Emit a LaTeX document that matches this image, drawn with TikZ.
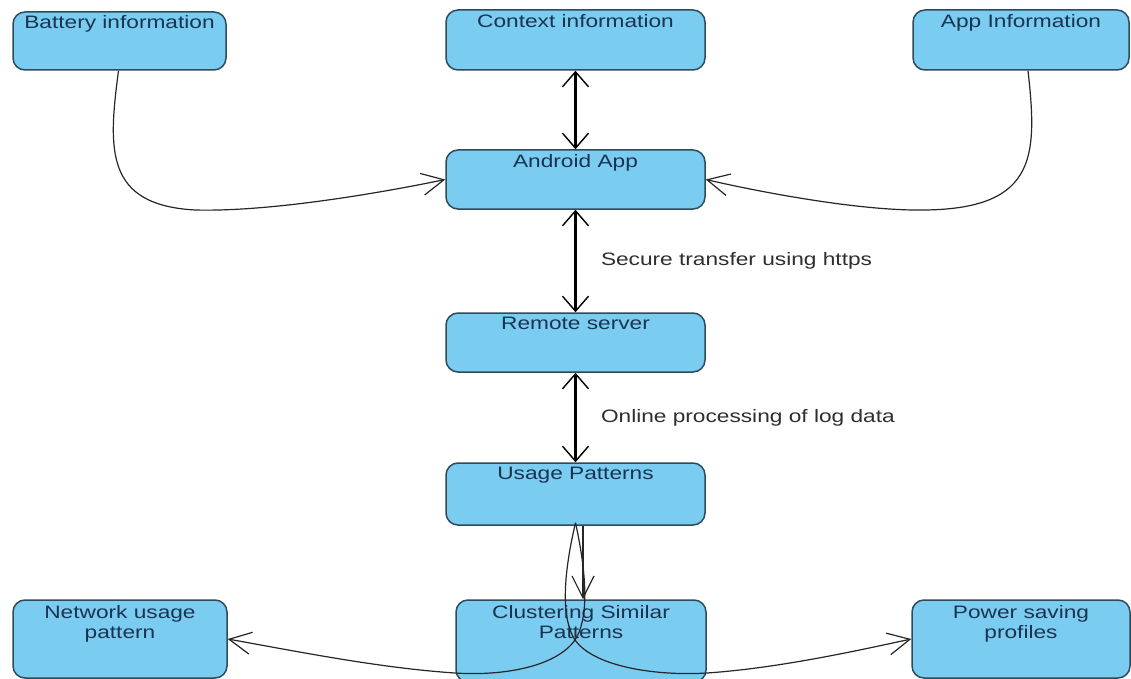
\documentclass[tikz,border=0pt]{standalone}
\usepackage{fontspec}
\newfontfamily\dfont[FakeStretch=1.26]{Liberation Sans}
\usetikzlibrary{arrows.meta}
\definecolor{boxfill}{HTML}{7ACDF1}
\definecolor{boxline}{HTML}{2E4B5C}
\definecolor{boxtext}{HTML}{1A3350}
\definecolor{labtext}{HTML}{2E2E2E}
\begin{document}
\begin{tikzpicture}[x=1pt,y=-1pt,
  box/.style={draw=boxline, line width=1.5pt, fill=boxfill, rounded corners=12pt, inner sep=0pt},
  boxtitle/.style={font=\dfont\fontsize{18}{20}\selectfont, text=boxtext, align=center, inner sep=0pt, anchor=north},
  edgelabel/.style={font=\dfont\fontsize{18}{20}\selectfont, text=labtext, inner sep=0pt, anchor=west},
  bigarrow/.style={line width=3pt, {Straight Barb[length=15pt,width=26pt,line width=1.4pt]}-{Straight Barb[length=15pt,width=26pt,line width=1.4pt]}},
  thinarrow/.style={line width=1.2pt, draw=black!85, -{Straight Barb[length=22pt,width=22pt,line width=1.2pt]}}
]
\useasboundingbox (0,0) rectangle (1131,679);
\clip (0,0) rectangle (1131,679);
\fill[white] (0,0) rectangle (1131,679);

% boxes
\node[box, minimum width=213pt, minimum height=58pt] (bat) at (119.5,41) {};
\node[box, minimum width=259pt, minimum height=60pt] (ctx) at (575.5,40) {};
\node[box, minimum width=216pt, minimum height=60pt] (appi) at (1021,40) {};
\node[box, minimum width=259pt, minimum height=59pt] (android) at (575.5,179.5) {};
\node[box, minimum width=259pt, minimum height=59pt] (remote) at (575.5,342.5) {};
\node[box, minimum width=259pt, minimum height=62pt] (usage) at (575.5,494) {};
\node[box, minimum width=250pt, minimum height=82pt] (clust) at (581,641) {};
\node[box, minimum width=214pt, minimum height=78pt] (net) at (120,639) {};
\node[box, minimum width=218pt, minimum height=78pt] (power) at (1021,639) {};

% titles
\node[boxtitle] (batT) at ([yshift=-4pt]bat.north) {Battery information};
\node[boxtitle] (ctxT) at ([yshift=-5pt]ctx.north) {Context information};
\node[boxtitle] (appiT) at ([yshift=-5pt]appi.north) {App Information};
\node[boxtitle] (androidT) at ([yshift=-5pt]android.north) {Android App};
\node[boxtitle] (remoteT) at ([yshift=-5pt]remote.north) {Remote server};
\node[boxtitle] (usageT) at ([yshift=-5pt]usage.north) {Usage Patterns};
\node[boxtitle] (clustT) at ([yshift=-6pt]clust.north) {Clustering Similar\\Patterns};
\node[boxtitle] (netT) at ([yshift=-6pt]net.north) {Network usage\\pattern};
\node[boxtitle] (powerT) at ([yshift=-6pt]power.north) {Power saving\\profiles};

% thick bidirectional connectors
\draw[bigarrow] (ctx.south) -- (android.north);
\draw[bigarrow] (android.south) -- node[edgelabel, pos=0.5, xshift=24pt] (l1) {Secure transfer using https} (remote.north);
\draw[bigarrow] (remote.south) -- node[edgelabel, pos=0.5, xshift=24pt] (l2) {Online processing of log data} (usage.north);

% curved inputs to Android App
\draw[thinarrow] ([xshift=-1pt]bat.south) .. controls (108,150) and (105,205) .. (195,210)
   .. controls (270,212) and (380,193) .. (android.west);
\draw[thinarrow] ([xshift=7pt]appi.south) .. controls (1038,160) and (1036,212) .. (913,210)
   .. controls (850,209) and (760,192) .. (android.east);

% usage -> clustering
\draw[thinarrow] ([xshift=7.5pt]usage.south) -- ([xshift=2pt]clust.north);

% usage -> network / power (loop)
\draw[thinarrow] ([yshift=3pt]usage.south) .. controls (588,580) and (588,620) .. (575,640)
   .. controls (555,668) and (500,676) .. (455,673)
   .. controls (380,668) and (300,652) .. (net.east);
\draw[thinarrow] ([yshift=3pt]usage.south) .. controls (562,580) and (562,620) .. (575,640)
   .. controls (595,668) and (660,676) .. (707,673)
   .. controls (780,668) and (860,650) .. (power.west);
\end{tikzpicture}
\end{document}
